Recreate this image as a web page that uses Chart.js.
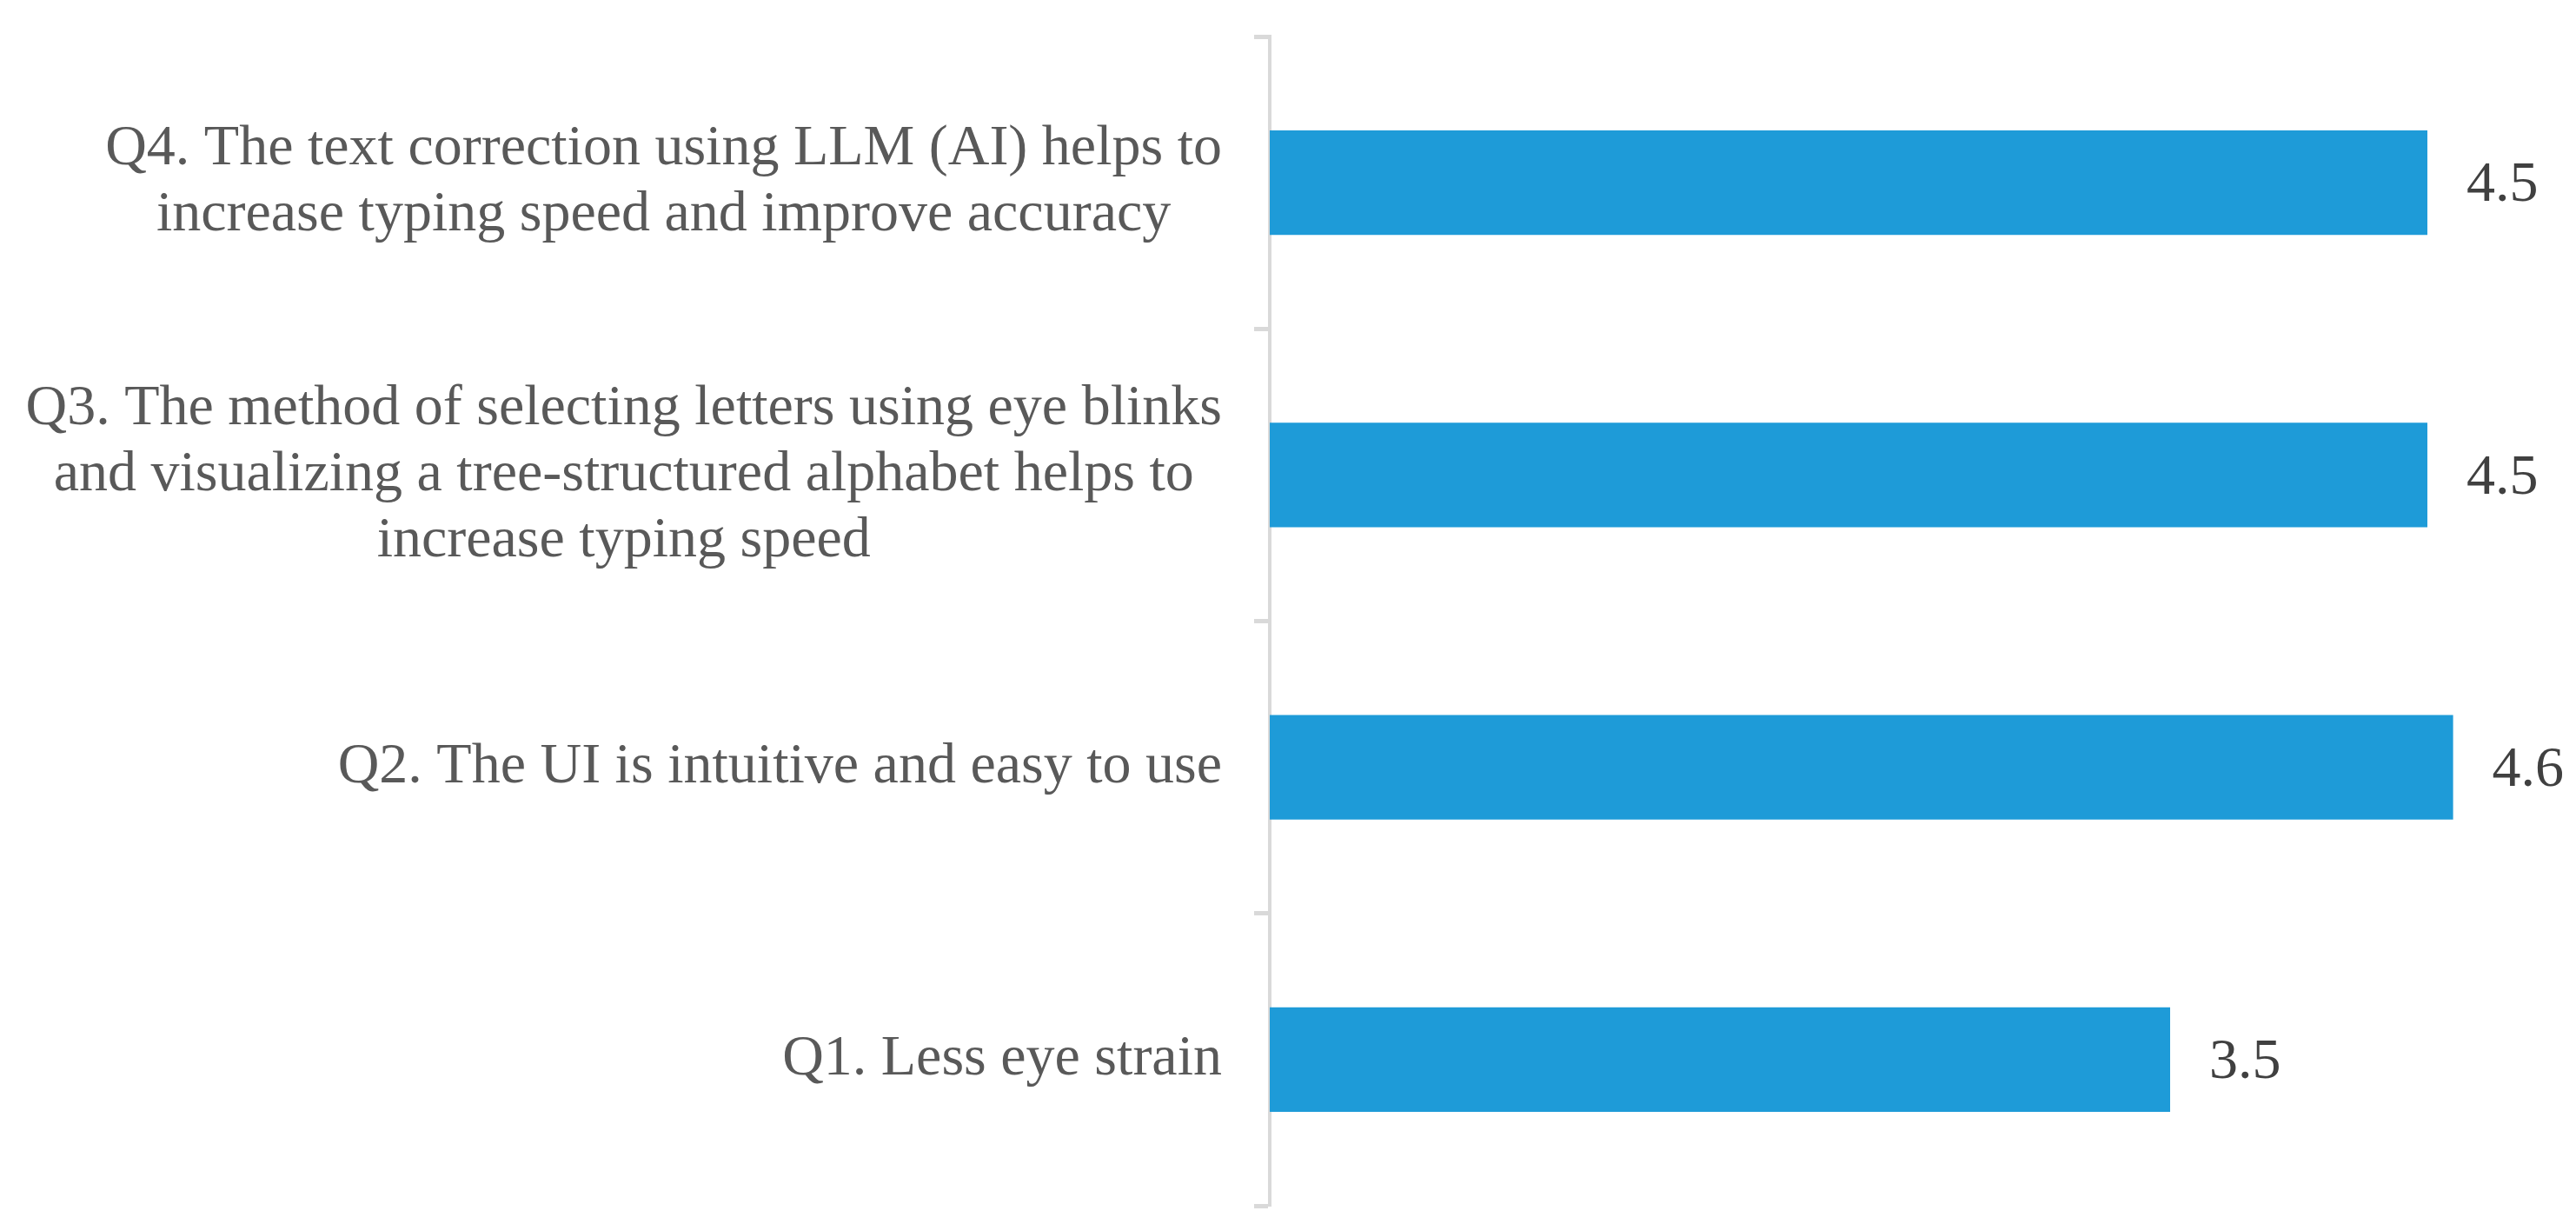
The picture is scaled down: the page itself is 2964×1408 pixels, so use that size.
<!DOCTYPE html>
<html>
<head>
<meta charset="utf-8">
<script src="https://cdn.jsdelivr.net/npm/chart.js@4"></script>
<style>
  html, body { margin: 0; padding: 0; background: #fff; }
  canvas { display: block; }
</style>
</head>
<body>
<canvas id="surveyChart" width="2964" height="1408"></canvas>
<script>
// Dati del grafico (dall'alto verso il basso)
const questions = [
  ['Q4. The text correction using LLM (AI) helps to', 'increase typing speed and improve accuracy'],
  ['Q3. The method of selecting letters using eye blinks', 'and visualizing a tree-structured alphabet helps to', 'increase typing speed'],
  ['Q2. The UI is intuitive and easy to use'],
  ['Q1. Less eye strain']
];
const scores = [4.5, 4.5, 4.6, 3.5];
const xMin = 0;
const xMax = 5;

const labelFont = '66px "Liberation Serif", "Times New Roman", serif';

// Etichette delle domande: blocco allineato a destra, righe centrate
const questionLabels = {
  id: 'questionLabels',
  afterDraw(chart) {
    const c = chart.ctx;
    const yScale = chart.scales.y;
    const right = chart.chartArea.left - 55;
    const lineH = 76;
    c.save();
    c.font = labelFont;
    c.fillStyle = '#595959';
    c.textAlign = 'center';
    c.textBaseline = 'middle';
    questions.forEach((lines, i) => {
      const w = Math.max(...lines.map(l => c.measureText(l).width));
      const cx = right - w / 2;
      const cy = yScale.getPixelForValue(i);
      lines.forEach((l, k) => {
        c.fillText(l, cx, cy + (k - (lines.length - 1) / 2) * lineH);
      });
    });
    c.restore();
  }
};

// Valori accanto alle barre
const valueLabels = {
  id: 'valueLabels',
  afterDatasetsDraw(chart) {
    const c = chart.ctx;
    const meta = chart.getDatasetMeta(0);
    c.save();
    c.font = labelFont;
    c.fillStyle = '#404040';
    c.textAlign = 'left';
    c.textBaseline = 'middle';
    meta.data.forEach((bar, i) => {
      c.fillText(scores[i].toFixed(1), bar.x + 45, bar.y + 4);
    });
    c.restore();
  }
};

const ctx = document.getElementById('surveyChart').getContext('2d');
new Chart(ctx, {
  type: 'bar',
  data: {
    labels: questions,
    datasets: [{
      data: scores,
      backgroundColor: '#1E9BD8',
      borderWidth: 0,
      barPercentage: 0.357,
      categoryPercentage: 1
    }]
  },
  options: {
    indexAxis: 'y',
    responsive: false,
    animation: false,
    layout: { padding: { left: 1443, right: 23, top: 42, bottom: 21 } },
    plugins: {
      legend: { display: false },
      tooltip: { enabled: false }
    },
    scales: {
      x: {
        display: false,
        min: xMin,
        max: xMax
      },
      y: {
        grid: {
          offset: true,
          drawOnChartArea: false,
          drawTicks: true,
          tickLength: 18,
          tickWidth: 5,
          tickColor: '#d9d9d9'
        },
        border: { display: true, color: '#d9d9d9', width: 4 },
        ticks: { display: false }
      }
    }
  },
  plugins: [questionLabels, valueLabels]
});
</script>
</body>
</html>
